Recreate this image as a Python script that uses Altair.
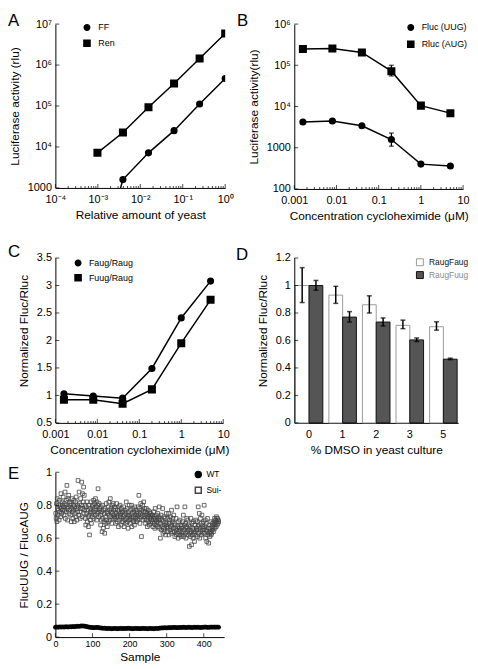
import altair as alt
import pandas as pd

FONT = "Liberation Sans"

# ---------------- data ----------------
# Panel A
A_X = [0.00098, 0.0039, 0.0156, 0.0625, 0.25, 1.0]
A_FF = [10, 1600, 7200, 25000, 112000, 470000]
A_REN = [7200, 22500, 93000, 355000, 1440000, 5900000]
A_SERIES = ["FF", "Ren"]

# Panel B
B_X = [0.0016, 0.008, 0.04, 0.2, 1.0, 5.0]
B_FLUC = [4200, 4450, 3400, 1580, 400, 360]
B_RLUC = [247000, 256000, 205000, 72000, 10500, 6900]
B_SERIES = ["Fluc (UUG)", "Rluc (AUG)"]
B_ERR_X = [0.2, 0.2]
B_ERR_LO = [1090, 55000]
B_ERR_HI = [2270, 100000]

# Panel C
C_X = [0.0016, 0.008, 0.04, 0.2, 1.0, 5.0]
C_FAUG = [1.03, 0.99, 0.95, 1.49, 2.41, 3.08]
C_FUUG = [0.92, 0.92, 0.85, 1.11, 1.95, 2.74]
C_SERIES = ["Faug/Raug", "Fuug/Raug"]

# Panel D
D_CATS = ["0", "1", "2", "3", "5"]
D_SERIES = ["RaugFaug", "RaugFuug"]
D_FAUG = [1.0, 0.93, 0.86, 0.71, 0.70]
D_FAUG_LO = [0.876, 0.87, 0.80, 0.686, 0.675]
D_FAUG_HI = [1.13, 0.994, 0.925, 0.748, 0.736]
D_FUUG = [1.0, 0.77, 0.734, 0.604, 0.464]
D_FUUG_LO = [0.966, 0.734, 0.705, 0.592, 0.46]
D_FUUG_HI = [1.037, 0.81, 0.764, 0.618, 0.471]

# Panel E (values in hundredths / thousandths)
E_SUI = [
    75, 72, 81, 70, 84, 78, 74, 77, 80, 71, 83, 76, 79, 73, 87, 78, 75, 82, 80, 77,
    85, 79, 74, 81, 77, 88, 72, 80, 76, 83, 92, 78, 71, 84, 79, 86, 75, 82, 77, 80,
    74, 81, 70, 78, 84, 76, 72, 80, 77, 83, 70, 79, 75, 82, 73, 85, 78, 71, 80, 76,
    95, 79, 74, 88, 81, 76, 72, 84, 78, 80, 94, 73, 87, 78, 82, 91, 75, 86, 77, 80,
    72, 68, 79, 75, 82, 70, 77, 73, 67, 80, 74, 62, 78, 71, 76, 82, 69, 75, 79, 73,
    80, 76, 83, 72, 78, 81, 74, 84, 77, 79, 71, 82, 75, 80, 90, 76, 73, 81, 78, 77,
    74, 68, 79, 71, 76, 64, 80, 72, 66, 77, 70, 75, 63, 78, 73, 69, 81, 71, 76, 67,
    75, 79, 70, 82, 74, 77, 71, 84, 73, 78, 76, 69, 80, 75, 72, 81, 77, 74, 79, 73,
    72, 78, 69, 75, 81, 73, 70, 77, 74, 67, 79, 76, 71, 80, 73, 75, 68, 78, 72, 76,
    70, 76, 73, 79, 67, 74, 71, 77, 69, 75, 82, 72, 78, 70, 74, 66, 76, 73, 80, 71,
    74, 69, 77, 72, 80, 67, 75, 71, 78, 73, 70, 76, 68, 79, 74, 72, 77, 70, 75, 73,
    76, 71, 79, 74, 86, 72, 78, 69, 75, 81, 73, 61, 77, 74, 80, 71, 76, 82, 73, 78,
    72, 76, 69, 74, 78, 71, 75, 67, 73, 77, 70, 74, 68, 76, 72, 75, 69, 73, 71, 74,
    70, 74, 67, 72, 76, 69, 73, 66, 78, 71, 68, 74, 70, 72, 67, 75, 69, 71, 73, 79,
    66, 72, 60, 69, 74, 65, 71, 67, 78, 63, 70, 66, 73, 64, 68, 72, 62, 69, 75, 67,
    68, 64, 72, 66, 75, 62, 69, 71, 65, 73, 67, 63, 77, 68, 70, 64, 72, 66, 74, 69,
    64, 61, 68, 66, 72, 62, 65, 79, 63, 67, 60, 70, 64, 66, 62, 71, 65, 68, 61, 67,
    66, 62, 70, 64, 74, 61, 68, 65, 79, 63, 69, 60, 67, 72, 64, 66, 71, 62, 68, 65,
    55, 63, 67, 61, 72, 64, 56, 69, 62, 66, 60, 70, 65, 63, 58, 68, 64, 71, 62, 66,
    65, 70, 61, 67, 79, 63, 68, 75, 60, 66, 72, 64, 69, 62, 74, 65, 67, 63, 70, 66,
    80, 63, 67, 71, 60, 65, 69, 58, 64, 72, 62, 66, 57, 68, 63, 61, 66, 64, 70, 62,
    63, 67, 65, 69, 66, 64, 70, 68, 72, 66, 69, 71, 67, 73, 70, 68, 72, 69, 71, 70,
]
E_SUI_X = list(range(1, len(E_SUI) + 1))
E_WT = [
    60, 61, 60, 62, 61, 62, 61, 63, 62, 62, 63,
    63, 64, 63, 65, 66, 65, 67, 68, 67, 66, 64, 62,
    60, 59, 58, 57, 58, 59, 58, 56, 55, 54, 54, 53,
    52, 53, 52, 51, 52, 53, 52, 51, 52, 53, 52, 52,
    53, 52, 54, 53, 52, 51, 52, 53, 52, 52, 51, 52,
    53, 52, 52, 51, 52, 53, 52, 51, 52, 53, 52, 54,
    55, 56, 56, 57, 56, 57, 58, 57, 58, 59, 58, 57,
    58, 59, 58, 60, 59, 58, 59, 60, 59, 58, 59, 60,
    59, 60, 59, 58, 59, 60, 61, 60, 59, 60, 61, 60,
    61, 60, 61, 60,
]
E_WT_X = list(range(0, 4 * len(E_WT), 4))
E_SERIES = ["WT", "Sui-"]

# ---------------- helpers ----------------
CIRC_PATH = "M-2.6,0H2.4M1,0A1,1 0 1,1 -1,0A1,1 0 1,1 1,0Z"
SQ_PATH = "M-2.6,0H2.4M-1.1,-1.1H1.1V1.1H-1.1Z"


def minors(lo, hi):
    return [m * 10.0 ** e for e in range(lo, hi) for m in range(2, 10)]


def label_expr(vals, labels):
    parts = [f"abs(datum.value/{v!r} - 1) < 1e-6 ? '{l}'" for v, l in zip(vals, labels)]
    return " : ".join(parts) + " : ''"


def xaxis(title, values=None, lexpr=None, fmt=None, lfs=11, lpad=6, tpad=5):
    kw = dict(title=title, ticks=False, labelPadding=lpad, labelFlush=False,
              labelOverlap=False, titlePadding=tpad, labelAngle=0, labelFontSize=lfs)
    if values is not None:
        kw["values"] = values
    if lexpr:
        kw["labelExpr"] = lexpr
    if fmt:
        kw["format"] = fmt
    return alt.Axis(**kw)


def yaxis(title, values, lexpr=None, fmt=None, domain=True):
    kw = dict(title=title, values=values, ticks=False, labelPadding=4,
              labelOverlap=False, titlePadding=6, domain=domain, labelAngle=0)
    if lexpr:
        kw["labelExpr"] = lexpr
    if fmt:
        kw["format"] = fmt
    return alt.Axis(**kw)


def xticks(vals, scale, axis, H, size):
    # inward tick marks along the bottom axis
    return alt.Chart(pd.DataFrame({"t": vals})).mark_tick(
        orient="vertical", size=size, thickness=1, color="black"
    ).encode(x=alt.X("t:Q", scale=scale, axis=axis), y=alt.value(H - size / 2))


def yticks(vals, scale, axis, size=4):
    # inward tick marks along the left axis
    return alt.Chart(pd.DataFrame({"t": vals})).mark_tick(
        orient="horizontal", size=size, thickness=1, color="black"
    ).encode(y=alt.Y("t:Q", scale=scale, axis=axis), x=alt.value(size / 2))


def letter(ch, x, y):
    return alt.Chart(pd.DataFrame({"t": [ch]})).mark_text(
        align="left", baseline="top", fontSize=17, font=FONT, color="black"
    ).encode(text="t:N", x=alt.value(x), y=alt.value(y))


def line_legend(x, y, label_offset, row_pad, fs=9):
    return alt.Legend(title=None, orient="none", legendX=x, legendY=y, padding=0,
                      symbolSize=49, symbolFillColor="black", symbolStrokeColor="black",
                      symbolStrokeWidth=1.3, symbolOpacity=1, labelFontSize=fs,
                      labelOffset=label_offset, rowPadding=row_pad, labelFont=FONT,
                      labelColor="black")


def line_panel(df, order, xscale, yscale, xax, yax, legend, width, height, extra):
    base = alt.Chart(df)
    X = alt.X("x:Q", scale=xscale, axis=xax)
    Y = alt.Y("y:Q", scale=yscale, axis=yax)
    line = base.mark_line(color="black", strokeWidth=1.5, clip=True).encode(
        x=X, y=Y, detail="s:N")
    pts = base.mark_point(filled=True, color="black", opacity=1, clip=True).encode(
        x=X, y=Y,
        shape=alt.Shape("s:N", scale=alt.Scale(domain=order, range=["circle", "square"]), legend=None),
        size=alt.Size("s:N", scale=alt.Scale(domain=order, range=[52, 66]), legend=None),
    )
    leg = base.mark_point(filled=True, fill="black", stroke="black", strokeWidth=1.3, opacity=0).encode(
        x=X, y=Y,
        shape=alt.Shape("s:N", scale=alt.Scale(domain=order, range=[CIRC_PATH, SQ_PATH]), legend=legend),
    )
    return alt.layer(line, *extra, pts, leg).resolve_scale(shape="independent").properties(
        width=width, height=height)


# ---------------- Panel A ----------------
dfA = pd.DataFrame({
    "x": A_X + A_X,
    "y": A_FF + A_REN,
    "s": [A_SERIES[0]] * len(A_X) + [A_SERIES[1]] * len(A_X),
})
A_XMAJ = [1e-4, 1e-3, 1e-2, 1e-1, 1.0]
A_YMAJ = [1e3, 1e4, 1e5, 1e6, 1e7]
A_H = 166
xsA = alt.Scale(type="log", domain=[1e-4, 1], nice=False)
ysA = alt.Scale(type="log", domain=[1e3, 1e7], nice=False)
axA_x = xaxis("Relative amount of yeast", A_XMAJ,
              label_expr(A_XMAJ, ["10⁻⁴", "10⁻³", "10⁻²", "10⁻¹", "10⁰"]))
axA_y = yaxis("Luciferase activity (rlu)", A_YMAJ,
              label_expr(A_YMAJ, ["1000", "10⁴", "10⁵", "10⁶", "10⁷"]))
panelA = line_panel(
    dfA, A_SERIES, xsA, ysA, axA_x, axA_y,
    line_legend(27.5, -1, 7.0, 3),
    172, A_H,
    [xticks(A_XMAJ, xsA, axA_x, A_H, 4), xticks(minors(-4, 0), xsA, axA_x, A_H, 2),
     yticks(A_YMAJ, ysA, axA_y), letter("A", -48, -11)],
)

# ---------------- Panel B ----------------
dfB = pd.DataFrame({
    "x": B_X + B_X,
    "y": B_FLUC + B_RLUC,
    "s": [B_SERIES[0]] * len(B_X) + [B_SERIES[1]] * len(B_X),
})
B_H = 167
B_XMAJ = [1e-3, 1e-2, 1e-1, 1.0, 10.0]
B_YMAJ = [1e2, 1e3, 1e4, 1e5, 1e6]
xsB = alt.Scale(type="log", domain=[1e-3, 10], nice=False)
ysB = alt.Scale(type="log", domain=[1e2, 1e6], nice=False)
axB_x = xaxis("Concentration cycloheximide (μM)", B_XMAJ,
              label_expr(B_XMAJ, ["0.001", "0.01", "0.1", "1", "10"]))
axB_y = yaxis("Luciferase activity(rlu)", B_YMAJ,
              label_expr(B_YMAJ, ["100", "1000", "10⁴", "10⁵", "10⁶"]))
dfBe = pd.DataFrame({"x": B_ERR_X, "lo": B_ERR_LO, "hi": B_ERR_HI})
errB = [
    alt.Chart(dfBe).mark_rule(color="black", strokeWidth=1.3).encode(
        x=alt.X("x:Q", scale=xsB, axis=axB_x), y=alt.Y("lo:Q", scale=ysB, axis=axB_y), y2="hi:Q"),
    alt.Chart(dfBe).mark_tick(orient="horizontal", size=5, thickness=1.3, color="black").encode(
        x=alt.X("x:Q", scale=xsB, axis=axB_x), y=alt.Y("lo:Q", scale=ysB, axis=axB_y)),
    alt.Chart(dfBe).mark_tick(orient="horizontal", size=5, thickness=1.3, color="black").encode(
        x=alt.X("x:Q", scale=xsB, axis=axB_x), y=alt.Y("hi:Q", scale=ysB, axis=axB_y)),
]
panelB = line_panel(
    dfB, B_SERIES, xsB, ysB, axB_x, axB_y,
    line_legend(113.5, -1, 6.5, 4),
    171, B_H,
    errB + [xticks(B_XMAJ, xsB, axB_x, B_H, 4), xticks(minors(-3, 1), xsB, axB_x, B_H, 2),
            yticks(B_YMAJ, ysB, axB_y), letter("B", -58, -11)],
)

# ---------------- Panel C (20px headroom on top) ----------------
HEAD = 20
C_H = 167
C_TOP = 3.5 + HEAD * 3.0 / C_H
C_YV = [0.5, 1.0, 1.5, 2.0, 2.5, 3.0, 3.5]
dfC = pd.DataFrame({
    "x": C_X + C_X,
    "y": C_FAUG + C_FUUG,
    "s": [C_SERIES[0]] * len(C_X) + [C_SERIES[1]] * len(C_X),
})
xsC = alt.Scale(type="log", domain=[1e-3, 10], nice=False)
ysC = alt.Scale(domain=[0.5, C_TOP], nice=False, zero=False)
axC_x = xaxis("Concentration cycloheximide (μM)", B_XMAJ,
              label_expr(B_XMAJ, ["0.001", "0.01", "0.1", "1", "10"]))
axC_y = yaxis("Normalized Fluc/Rluc", C_YV, fmt="~g", domain=False)
domC = alt.Chart(pd.DataFrame({"a": [0.5], "b": [3.5]})).mark_rule(color="black", strokeWidth=1).encode(
    x=alt.value(0.5), y=alt.Y("a:Q", scale=ysC, axis=axC_y), y2="b:Q")
panelC = line_panel(
    dfC, C_SERIES, xsC, ysC, axC_x, axC_y,
    line_legend(18.5, 20.5, 6.5, 2),
    170, C_H + HEAD,
    [domC, xticks(B_XMAJ, xsC, axC_x, C_H + HEAD, 4), xticks(minors(-3, 1), xsC, axC_x, C_H + HEAD, 2),
     yticks(C_YV, ysC, axC_y), letter("C", -48, 6)],
)

# ---------------- Panel D ----------------
D_H = 167
D_TOP = 1.2 + HEAD * 1.2 / D_H
D_YV = [0.0, 0.2, 0.4, 0.6, 0.8, 1.0, 1.2]
ysD = alt.Scale(domain=[0, D_TOP], nice=False)
xscD = alt.Scale(paddingInner=0.18, paddingOuter=0.03)
axD_x = xaxis("% DMSO in yeast culture")
axD_y = yaxis("Normalized Fluc/Rluc", D_YV, fmt="~g", domain=False)
dfD = pd.DataFrame({
    "cat": D_CATS + D_CATS,
    "s": [D_SERIES[0]] * 5 + [D_SERIES[1]] * 5,
    "v": D_FAUG + D_FUUG,
    "lo": D_FAUG_LO + D_FUUG_LO,
    "hi": D_FAUG_HI + D_FUUG_HI,
})
legD = alt.Legend(title=None, orient="none", legendX=123, legendY=20, padding=0,
                  symbolType="square", symbolSize=49, symbolStrokeWidth=1,
                  labelFontSize=8.5, labelOffset=5, rowPadding=1, labelFont=FONT,
                  labelColor=alt.ExprRef("datum.value === 'RaugFuug' ? '#8a8a8a' : '#111111'"))
XD = alt.X("cat:N", sort=D_CATS, scale=xscD, axis=axD_x)
XOD = alt.XOffset("s:N", sort=D_SERIES)
barsD = alt.Chart(dfD).mark_bar(strokeWidth=1).encode(
    x=XD, xOffset=XOD,
    y=alt.Y("v:Q", scale=ysD, axis=axD_y),
    fill=alt.Fill("s:N", scale=alt.Scale(domain=D_SERIES, range=["white", "#555555"]), legend=legD),
    stroke=alt.Stroke("s:N", scale=alt.Scale(domain=D_SERIES, range=["#9a9a9a", "#111111"]), legend=legD),
)
errD_rule = alt.Chart(dfD).mark_rule(color="black", strokeWidth=1.5).encode(
    x=XD, xOffset=XOD, y=alt.Y("lo:Q", scale=ysD, axis=axD_y), y2="hi:Q")
errD_lo = alt.Chart(dfD).mark_tick(orient="horizontal", size=5, thickness=1.5, color="black").encode(
    x=XD, xOffset=XOD, y=alt.Y("lo:Q", scale=ysD, axis=axD_y))
errD_hi = alt.Chart(dfD).mark_tick(orient="horizontal", size=5, thickness=1.5, color="black").encode(
    x=XD, xOffset=XOD, y=alt.Y("hi:Q", scale=ysD, axis=axD_y))
domD = alt.Chart(pd.DataFrame({"a": [0.0], "b": [1.2]})).mark_rule(color="black", strokeWidth=1).encode(
    x=alt.value(0.5), y=alt.Y("a:Q", scale=ysD, axis=axD_y), y2="b:Q")
panelD = alt.layer(barsD, errD_rule, errD_lo, errD_hi, domD, yticks(D_YV, ysD, axD_y),
                   letter("D", -59, 9)).properties(width=166, height=D_H + HEAD)

# ---------------- Panel E ----------------
E_H = 167
E_XV = [0, 100, 200, 300, 400]
E_YV = [0.0, 0.2, 0.4, 0.6, 0.8, 1.0]
xsE = alt.Scale(domain=[0, 455], nice=False)
ysE = alt.Scale(domain=[0, 1], nice=False)
axE_x = xaxis("Sample", E_XV, fmt="d", lfs=9, lpad=3, tpad=3)
axE_y = yaxis("FlucUUG / FlucAUG", E_YV, fmt="~g")
dfE = pd.DataFrame({
    "x": E_SUI_X + E_WT_X,
    "y": [v / 100 for v in E_SUI] + [v / 1000 for v in E_WT],
    "s": ["Sui-"] * len(E_SUI) + ["WT"] * len(E_WT),
})
legE = alt.Legend(title=None, orient="none", legendX=140.5, legendY=-2, padding=0,
                  symbolSize=36, symbolStrokeWidth=1.5, labelFontSize=8.5, labelOffset=4,
                  rowPadding=3, labelFont=FONT, labelColor="black", symbolOpacity=1)
encE = dict(
    x=alt.X("x:Q", scale=xsE, axis=axE_x),
    y=alt.Y("y:Q", scale=ysE, axis=axE_y),
    shape=alt.Shape("s:N", scale=alt.Scale(domain=E_SERIES, range=["circle", "square"]), legend=legE),
    fill=alt.Fill("s:N", scale=alt.Scale(domain=E_SERIES, range=["black", "transparent"]), legend=legE),
    stroke=alt.Stroke("s:N", scale=alt.Scale(domain=E_SERIES, range=["black", "#444444"]), legend=legE),
)
suiE = alt.Chart(dfE).transform_filter("datum.s === 'Sui-'").mark_point(
    strokeWidth=0.8, size=14, opacity=1).encode(**encE)
wtE = alt.Chart(dfE).transform_filter("datum.s === 'WT'").mark_point(
    strokeWidth=0.8, size=16, opacity=1).encode(**encE)
panelE = alt.layer(suiE, wtE, xticks(E_XV, xsE, axE_x, E_H, 4), yticks(E_YV, ysE, axE_y),
                   letter("E", -48, -6)).properties(width=171, height=E_H)

chart = alt.concat(
    panelA, panelB, panelC, panelD, panelE,
    columns=2, spacing={"row": 50, "column": 70}, bounds="flush",
).resolve_scale(
    shape="independent", fill="independent", stroke="independent", size="independent",
).properties(padding=0).configure_view(stroke=None).configure_axis(
    labelFont=FONT, titleFont=FONT, labelFontSize=11, titleFontSize=12,
    labelColor="black", titleColor="black", domainColor="black", tickColor="black",
    domainWidth=1, tickWidth=1, titleFontWeight="normal", grid=False,
).configure_text(font=FONT)

chart.save("out.html", embed_options={"renderer": "svg", "actions": False})
